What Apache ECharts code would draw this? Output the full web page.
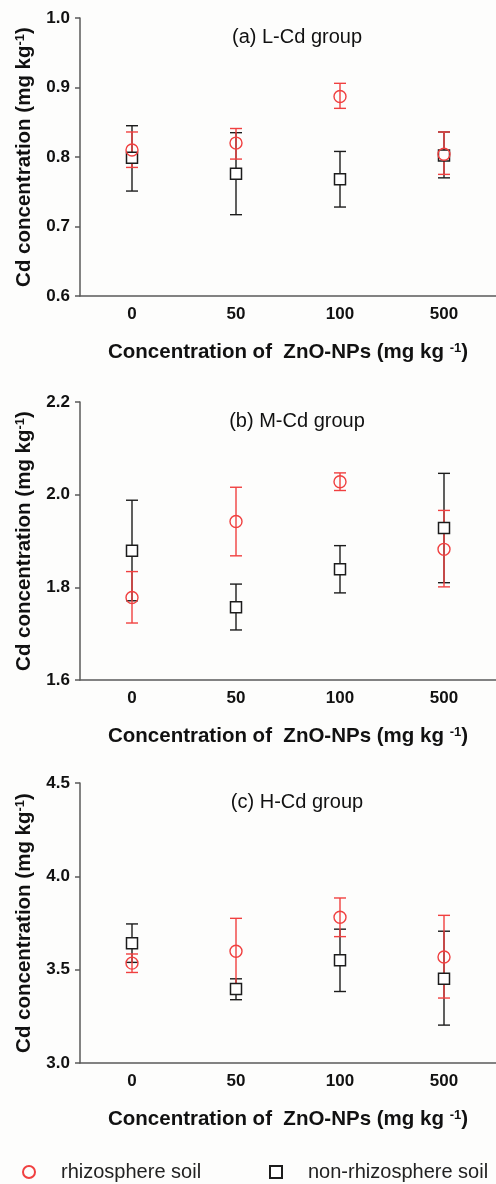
<!DOCTYPE html>
<html>
<head>
<meta charset="utf-8">
<script src="https://cdn.jsdelivr.net/npm/echarts@6/dist/echarts.min.js"></script>
<style>
  html, body { margin: 0; padding: 0; background: #fdfdfc; }
  #chart { width: 496px; height: 1184px; }
</style>
</head>
<body>
<div id="chart"></div>
<script>
// ZnO-NPs dose groups (x categories)
var doses = ['0', '50', '100', '500'];

// (a) L-Cd group
var rhizoMeanA = [0.810, 0.820, 0.887, 0.804];
var rhizoLowA = [0.785, 0.797, 0.870, 0.775];
var rhizoHighA = [0.836, 0.841, 0.906, 0.836];
var nonMeanA = [0.799, 0.776, 0.768, 0.802];
var nonLowA = [0.751, 0.717, 0.728, 0.770];
var nonHighA = [0.845, 0.835, 0.808, 0.836];

// (b) M-Cd group
var rhizoMeanB = [1.778, 1.942, 2.028, 1.882];
var rhizoLowB = [1.723, 1.868, 2.009, 1.801];
var rhizoHighB = [1.834, 2.016, 2.047, 1.966];
var nonMeanB = [1.879, 1.757, 1.839, 1.928];
var nonLowB = [1.771, 1.708, 1.788, 1.810];
var nonHighB = [1.988, 1.807, 1.890, 2.046];

// (c) H-Cd group
var rhizoMeanC = [3.535, 3.599, 3.781, 3.568];
var rhizoLowC = [3.485, 3.423, 3.677, 3.348];
var rhizoHighC = [3.584, 3.775, 3.884, 3.791];
var nonMeanC = [3.642, 3.396, 3.551, 3.451];
var nonLowC = [3.539, 3.339, 3.383, 3.203];
var nonHighC = [3.745, 3.451, 3.717, 3.706];

var yMin = [0.6, 1.6, 3.0];
var yMax = [1.0, 2.2, 4.5];
var yStep = [0.1, 0.2, 0.5];
var panelTitles = ['(a) L-Cd group', '(b) M-Cd group', '(c) H-Cd group'];

var RED = '#f04040';
var BLACK = '#1c1c1c';
var AXIS = '#5a5a5a';

var panels = [
    { rm: rhizoMeanA, rl: rhizoLowA, rh: rhizoHighA, nm: nonMeanA, nl: nonLowA, nh: nonHighA },
    { rm: rhizoMeanB, rl: rhizoLowB, rh: rhizoHighB, nm: nonMeanB, nl: nonLowB, nh: nonHighB },
    { rm: rhizoMeanC, rl: rhizoLowC, rh: rhizoHighC, nm: nonMeanC, nl: nonLowC, nh: nonHighC }
];

var gridTops = [18, 402, 783];
var gridHeights = [278, 278, 280];

function errorBars(api) {
    var x = api.value(0);
    var lo = api.coord([x, api.value(1)]);
    var hi = api.coord([x, api.value(2)]);
    var half = 6;
    var st = { stroke: api.visual('color'), lineWidth: 1.4 };
    return {
        type: 'group',
        children: [
            { type: 'line', shape: { x1: hi[0], y1: hi[1], x2: lo[0], y2: lo[1] }, style: st },
            { type: 'line', shape: { x1: hi[0] - half, y1: hi[1], x2: hi[0] + half, y2: hi[1] }, style: st },
            { type: 'line', shape: { x1: lo[0] - half, y1: lo[1], x2: lo[0] + half, y2: lo[1] }, style: st }
        ]
    };
}

var richName = {
    b: { fontSize: 20.5, fontWeight: 'bold', color: '#111', fontFamily: 'Liberation Sans' },
    s: { fontSize: 13, fontWeight: 'bold', color: '#111', fontFamily: 'Liberation Sans', verticalAlign: 'top' }
};

var grids = [], xAxes = [], yAxes = [], titles = [], series = [];

panels.forEach(function (p, i) {
    grids.push({ left: 80, right: 0, top: gridTops[i], height: gridHeights[i] });
    titles.push({
        text: panelTitles[i],
        left: 292, top: gridTops[i] + 4, textAlign: 'center',
        textStyle: { fontSize: 20, fontWeight: 'normal', color: '#111', fontFamily: 'Liberation Sans' }
    });
    xAxes.push({
        type: 'category', gridIndex: i, data: doses,
        axisLine: { lineStyle: { color: AXIS, width: 1.5 } },
        axisTick: { alignWithLabel: true, length: 5, lineStyle: { color: AXIS, width: 1.5 } },
        axisLabel: { fontSize: 17, fontWeight: 'bold', color: '#111', margin: 10, fontFamily: 'Liberation Sans' },
        name: '{b|Concentration of  ZnO-NPs (mg kg }{s|-1}{b|)}',
        nameLocation: 'middle', nameGap: 46,
        nameTextStyle: { rich: richName }
    });
    yAxes.push({
        type: 'value', gridIndex: i, min: yMin[i], max: yMax[i], interval: yStep[i],
        splitLine: { show: false },
        axisLine: { show: true, lineStyle: { color: AXIS, width: 1.5 } },
        axisTick: { show: true, length: 5, lineStyle: { color: AXIS, width: 1.5 } },
        axisLabel: {
            fontSize: 17, fontWeight: 'bold', color: '#111', margin: 10, fontFamily: 'Liberation Sans',
            formatter: function (v) { return v.toFixed(1); }
        },
        name: '{b|Cd concentration (mg kg}{s|-1}{b|)}',
        nameLocation: 'middle', nameGap: 45,
        nameTextStyle: { rich: richName }
    });

    series.push({
        type: 'custom', xAxisIndex: i, yAxisIndex: i, z: 2,
        itemStyle: { color: BLACK },
        renderItem: function (params, api) { return errorBars(api); },
        data: doses.map(function (d, k) { return [k, p.nl[k], p.nh[k]]; })
    });
    series.push({
        type: 'custom', xAxisIndex: i, yAxisIndex: i, z: 3,
        itemStyle: { color: RED },
        renderItem: function (params, api) { return errorBars(api); },
        data: doses.map(function (d, k) { return [k, p.rl[k], p.rh[k]]; })
    });
    series.push({
        name: 'non-rhizosphere soil', type: 'scatter', xAxisIndex: i, yAxisIndex: i, z: 4,
        symbol: 'rect', symbolSize: 11,
        itemStyle: { color: '#ffffff', borderColor: BLACK, borderWidth: 1.5, opacity: 1 },
        data: doses.map(function (d, k) { return [k, p.nm[k]]; })
    });
    series.push({
        name: 'rhizosphere soil', type: 'scatter', xAxisIndex: i, yAxisIndex: i, z: 5,
        symbol: 'circle', symbolSize: 12,
        itemStyle: { color: 'rgba(255,255,255,0)', borderColor: RED, borderWidth: 1.4, opacity: 1 },
        data: doses.map(function (d, k) { return [k, p.rm[k]]; })
    });
});

var legendText = { fontSize: 20, color: '#222', fontFamily: 'Liberation Sans', padding: [0, 0, 0, 21] };

var option = {
    backgroundColor: '#fdfdfc',
    animation: false,
    title: titles,
    grid: grids,
    xAxis: xAxes,
    yAxis: yAxes,
    legend: [
        {
            data: [{ name: 'rhizosphere soil', icon: 'circle' }],
            left: 17, top: 1157, itemWidth: 12, itemHeight: 12,
            textStyle: legendText
        },
        {
            data: [{ name: 'non-rhizosphere soil', icon: 'rect' }],
            left: 264, top: 1157, itemWidth: 12, itemHeight: 12,
            textStyle: legendText
        }
    ],
    series: series
};

var myChart = echarts.init(document.getElementById('chart'));
myChart.setOption(option);
</script>
</body>
</html>
